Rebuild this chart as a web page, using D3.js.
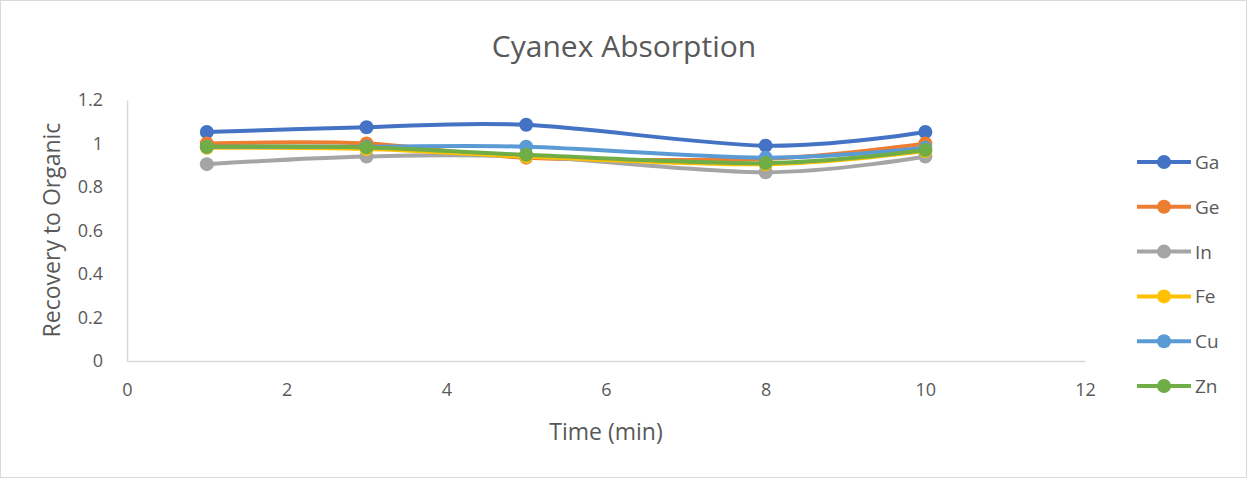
<!DOCTYPE html>
<html>
<head>
<meta charset="utf-8">
<script src="https://cdn.jsdelivr.net/npm/d3@7"></script>
<style>
  body{margin:0;background:#fff;}
  text{font-family:"Open Sans",sans-serif;fill:#595959;}
</style>
</head>
<body>
<svg id="chart" width="1247" height="478"></svg>
<script>
// data
let times=[1,3,5,8,10];
let seriesNames=["Ga","Ge","In","Fe","Cu","Zn"];
let seriesColors=["#4472C4","#ED7D31","#A5A5A5","#FFC000","#5B9BD5","#70AD47"];
let Ga=[1.053,1.075,1.086,0.99,1.053];
let Ge=[1.0,1.0,0.935,0.93,1.0];
let In=[0.905,0.94,0.94,0.868,0.94];
let Fe=[0.98,0.975,0.94,0.905,0.965];
let Cu=[0.985,0.985,0.985,0.935,0.98];
let Zn=[0.985,0.982,0.948,0.91,0.97];
let xTicks=[0,2,4,6,8,10,12];
let yTicks=[0,0.2,0.4,0.6,0.8,1,1.2];

let allSeries=[Ga,Ge,In,Fe,Cu,Zn];

let svg=d3.select("#chart");

svg.append("rect")
  .attr("x",0.5).attr("y",0.5)
  .attr("width",1246).attr("height",477)
  .attr("fill","#fff").attr("stroke","#d9d9d9");

let xScale=d3.scaleLinear().domain([0,12]).range([127,1085]);
let yScale=d3.scaleLinear().domain([0,1.2]).range([361,100]);

// axes
let xAxis=svg.append("g")
  .attr("transform","translate(0,"+yScale(0)+")")
  .call(d3.axisBottom(xScale).tickValues(xTicks).tickSize(0).tickPadding(22).tickFormat(d3.format("d")));
let yAxis=svg.append("g")
  .attr("transform","translate("+xScale(0)+",0)")
  .call(d3.axisLeft(yScale).tickValues(yTicks).tickSize(0).tickPadding(24).tickFormat(function(d){return d;}));
[xAxis,yAxis].forEach(function(a){
  a.select(".domain").attr("stroke","#d9d9d9").attr("stroke-width",1.5);
  a.selectAll("text").attr("font-size",18).attr("fill","#595959").attr("font-family","'Open Sans',sans-serif");
});

// lines
let line=d3.line()
  .x(function(d){return xScale(d[0]);})
  .y(function(d){return yScale(d[1]);})
  .curve(d3.curveCardinal.tension(0));

allSeries.forEach(function(vals,i){
  let pts=times.map(function(t,j){return [t,vals[j]];});
  let g=svg.append("g");
  g.append("path")
    .datum(pts)
    .attr("fill","none")
    .attr("stroke",seriesColors[i])
    .attr("stroke-width",4)
    .attr("d",line);
  g.selectAll("circle")
    .data(pts)
    .enter().append("circle")
    .attr("cx",function(d){return xScale(d[0]);})
    .attr("cy",function(d){return yScale(d[1]);})
    .attr("r",7)
    .attr("fill",seriesColors[i]);
});

// titles
svg.append("text")
  .attr("x",624).attr("y",57)
  .attr("text-anchor","middle")
  .attr("font-size",30)
  .text("Cyanex Absorption");

svg.append("text")
  .attr("x",606).attr("y",440)
  .attr("text-anchor","middle")
  .attr("font-size",23)
  .text("Time (min)");

svg.append("text")
  .attr("transform","translate(60,230) rotate(-90)")
  .attr("text-anchor","middle")
  .attr("font-size",23)
  .text("Recovery to Organic");

// legend
let legend=svg.append("g").selectAll("g")
  .data(seriesNames)
  .enter().append("g")
  .attr("transform",function(d,i){return "translate(1137,"+(162+i*44.8)+")";});
legend.append("line")
  .attr("x1",0).attr("x2",54)
  .attr("stroke",function(d,i){return seriesColors[i];})
  .attr("stroke-width",4);
legend.append("circle")
  .attr("cx",27).attr("r",7)
  .attr("fill",function(d,i){return seriesColors[i];});
legend.append("text")
  .attr("x",58).attr("y",7)
  .attr("font-size",19)
  .text(function(d){return d;});
</script>
</body>
</html>
